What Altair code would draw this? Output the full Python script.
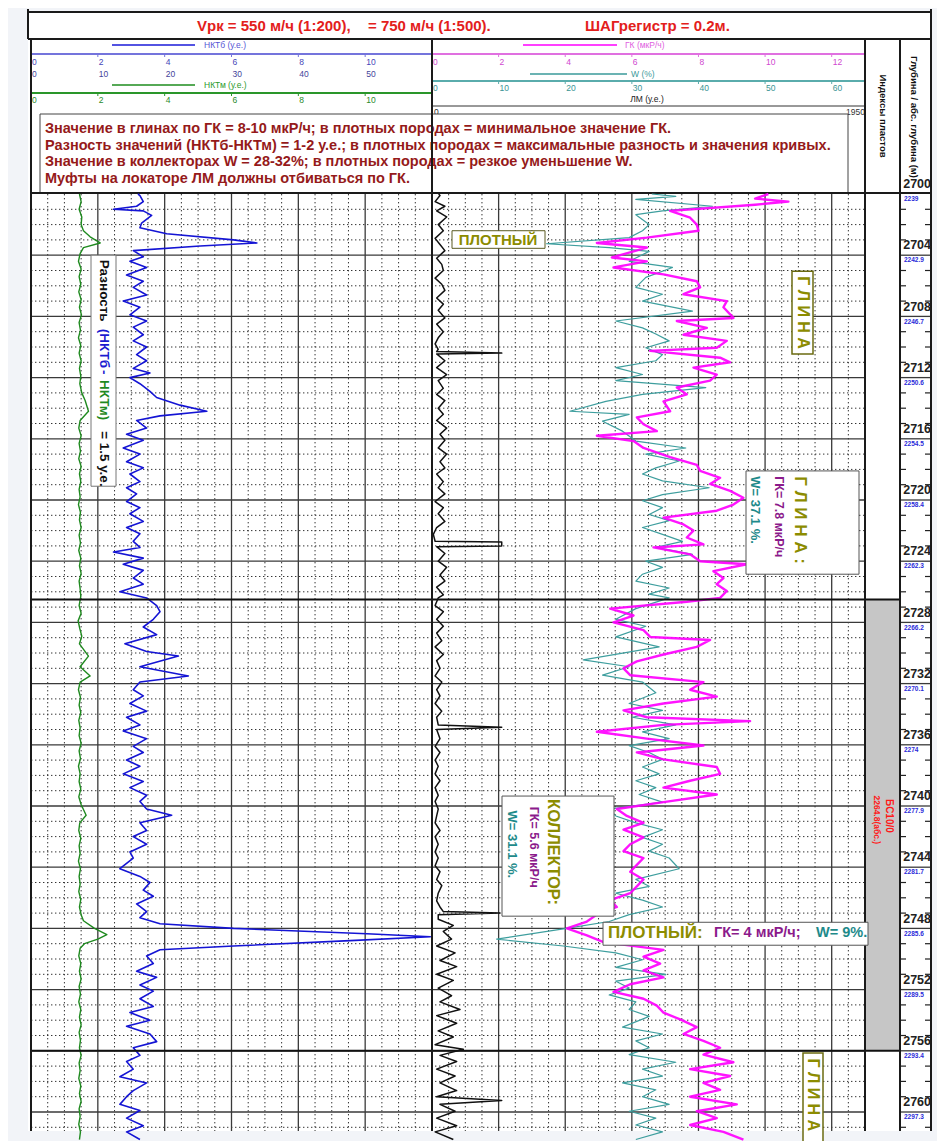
import altair as alt
import pandas as pd

# ------------------------------------------------------------------ data (depth m, value)
NKTB = [(2700.0,3.2),(2700.1,3.26),(2700.5,3.36),(2700.8,3.16),(2701.0,2.47),(2701.1,3.36),(2701.4,3.61),
        (2701.9,3.31),(2702.2,3.26),(2702.6,4.06),(2703.0,6.06),(2703.2,6.76),(2703.4,5.06),(2703.7,3.06),
        (2704.1,3.36),(2704.4,2.96),(2704.8,3.46),(2705.3,2.86),(2705.7,3.36),(2706.1,3.06),(2706.6,3.46),
        (2707.0,2.76),(2707.4,3.26),(2707.9,2.96),(2708.3,3.46),(2708.7,3.06),(2709.2,3.36),(2709.6,3.06),
        (2710.0,3.46),(2710.5,3.16),(2710.9,3.46),(2711.4,3.06),(2711.7,3.56),(2712.0,2.96),(2712.4,3.26),
        (2712.9,3.56),(2713.3,3.76),(2713.8,4.46),(2714.2,5.26),(2714.5,3.86),(2714.8,3.16),(2715.3,3.46),
        (2715.7,2.86),(2716.1,3.36),(2716.6,2.76),(2717.0,3.26),(2717.5,2.86),(2717.9,3.36),(2718.3,2.96),
        (2718.8,3.26),(2719.2,2.86),(2719.6,3.16),(2720.1,2.86),(2720.5,3.26),(2720.9,2.96),(2721.4,3.36),
        (2721.8,2.86),(2722.2,3.26),(2722.7,3.06),(2723.1,3.26),(2723.4,2.47),(2723.8,3.36),(2724.2,2.76),
        (2724.6,3.36),(2725.1,3.06),(2725.5,3.36),(2726.0,2.66),(2726.4,3.46),(2726.9,3.76),(2727.3,3.86),
        (2727.8,3.66),(2728.3,3.36),(2728.8,3.76),(2729.4,2.81),(2729.9,3.46),(2730.2,4.41),(2730.9,3.26),
        (2731.5,4.71),(2731.9,3.26),(2732.4,3.06),(2732.8,3.36),(2733.3,2.96),(2733.8,3.46),(2734.2,2.86),
        (2734.7,3.26),(2735.1,2.76),(2735.6,3.46),(2736.1,3.06),(2736.5,3.36),(2737.0,2.86),(2737.4,3.26),
        (2737.9,2.76),(2738.4,3.36),(2738.8,2.96),(2739.3,3.46),(2739.7,3.26),(2740.2,3.46),(2740.6,4.21),
        (2741.1,3.26),(2741.6,3.46),(2742.0,3.06),(2742.5,3.46),(2743.0,2.96),(2743.4,3.06),(2744.1,2.66),
        (2744.6,3.26),(2745.0,3.56),(2745.5,3.36),(2745.9,3.66),(2746.4,3.16),(2746.9,3.46),(2747.3,3.26),
        (2747.7,3.86),(2748.0,6.06),(2748.35,10.05),(2748.55,11.95),(2748.8,9.55),(2749.15,6.06),(2749.4,3.86),
        (2749.8,3.46),(2750.3,3.66),(2750.8,3.16),(2751.2,3.76),(2751.7,3.26),(2752.1,3.66),(2752.6,3.26),
        (2753.1,3.66),(2753.5,2.96),(2754.0,3.56),(2754.4,2.86),(2754.9,3.56),(2755.4,3.76),(2755.8,3.06),
        (2756.3,3.26),(2756.7,2.86),(2757.2,3.06),(2757.7,2.66),(2758.1,3.46),(2758.6,3.06),(2759.0,2.86),
        (2759.5,2.66),(2759.9,3.26),(2760.4,2.86),(2760.9,3.36),(2761.3,2.86),(2761.8,3.26)]

NKTM = [(2700.0,1.45),(2700.5,1.5),(2701.0,1.44),(2701.5,1.52),(2702.0,1.5),(2702.4,1.57),(2702.8,1.77),
        (2703.2,2.07),(2703.5,1.57),(2703.9,1.47),(2704.4,1.42),(2704.9,1.5),(2705.4,1.44),(2705.9,1.49),
        (2706.4,1.43),(2706.9,1.5),(2707.4,1.45),(2707.9,1.51),(2708.4,1.44),(2708.9,1.48),(2709.4,1.42),
        (2709.9,1.49),(2710.4,1.44),(2710.9,1.5),(2711.4,1.45),(2711.9,1.49),(2712.4,1.46),(2713.0,1.52),
        (2713.5,1.62),(2714.2,1.72),(2714.8,1.47),(2715.3,1.43),(2715.8,1.5),(2716.3,1.44),(2716.8,1.48),
        (2717.3,1.43),(2717.8,1.5),(2718.3,1.45),(2718.8,1.49),(2719.3,1.44),(2719.8,1.47),(2720.3,1.42),
        (2720.8,1.48),(2721.3,1.45),(2721.8,1.5),(2722.3,1.44),(2722.8,1.48),(2723.3,1.43),(2723.8,1.49),
        (2724.3,1.45),(2724.8,1.5),(2725.3,1.44),(2725.8,1.47),(2726.3,1.49),(2726.9,1.44),(2727.4,1.5),
        (2727.9,1.41),(2728.4,1.46),(2728.9,1.52),(2729.4,1.45),(2730.2,1.72),(2730.9,1.47),(2731.5,1.77),
        (2731.9,1.47),(2732.4,1.42),(2732.9,1.48),(2733.4,1.44),(2733.9,1.49),(2734.4,1.43),(2734.9,1.47),
        (2735.4,1.44),(2735.9,1.5),(2736.4,1.44),(2736.9,1.48),(2737.4,1.42),(2737.9,1.47),(2738.4,1.44),
        (2738.9,1.49),(2739.4,1.43),(2739.9,1.5),(2740.6,1.65),(2741.1,1.46),(2741.6,1.43),(2742.1,1.49),
        (2742.6,1.44),(2743.1,1.47),(2743.6,1.42),(2744.1,1.48),(2744.6,1.44),(2745.1,1.47),(2745.6,1.43),
        (2746.1,1.49),(2746.6,1.45),(2747.1,1.5),(2747.5,1.57),(2748.0,1.9),(2748.4,2.27),(2748.7,2.0),
        (2749.0,1.6),(2749.3,1.47),(2749.8,1.43),(2750.3,1.49),(2750.8,1.45),(2751.3,1.5),(2751.8,1.44),
        (2752.3,1.48),(2752.8,1.43),(2753.3,1.49),(2753.8,1.45),(2754.3,1.5),(2754.8,1.44),(2755.3,1.48),
        (2755.8,1.45),(2756.3,1.5),(2756.8,1.44),(2757.3,1.47),(2757.8,1.43),(2758.3,1.49),(2758.8,1.45),
        (2759.3,1.5),(2759.8,1.44),(2760.3,1.47),(2760.8,1.43),(2761.3,1.48),(2761.8,1.45)]

LM = [(2700.0,30),(2700.1,36),(2700.5,14),(2700.8,58),(2701.1,21),(2701.5,66),(2702.0,28),(2702.4,51),
      (2702.9,14),(2703.3,36),(2703.7,58),(2704.2,21),(2704.6,44),(2705.0,51),(2705.5,14),(2705.9,44),
      (2706.3,58),(2706.8,21),(2707.2,51),(2707.6,28),(2708.1,58),(2708.5,21),(2709.0,51),(2709.4,28),
      (2709.8,14),(2710.15,28),(2710.3,21),(2710.4,314),(2710.45,21),(2710.9,58),(2711.35,21),(2711.8,66),
      (2712.2,28),(2712.7,51),(2713.1,21),(2713.5,58),(2714.0,28),(2714.4,51),(2714.8,21),(2715.3,66),
      (2715.7,36),(2716.1,58),(2716.6,28),(2717.0,66),(2717.5,36),(2717.9,58),(2718.3,21),(2718.8,51),
      (2719.2,28),(2719.6,58),(2720.1,14),(2720.5,51),(2720.9,28),(2721.4,58),(2721.8,21),(2722.25,6),
      (2722.7,14),(2722.75,314),(2723.0,314),(2723.05,21),(2723.5,58),(2724.0,28),(2724.4,66),(2724.9,36),
      (2725.3,58),(2725.7,21),(2726.2,51),(2726.4,28),(2726.9,14),(2727.3,51),(2727.8,21),(2728.25,51),
      (2728.7,21),(2729.2,44),(2729.6,14),(2730.1,51),(2730.5,21),(2731.0,36),(2731.5,14),(2731.9,44),
      (2732.4,21),(2732.8,36),(2733.3,14),(2733.8,44),(2734.2,21),(2734.7,28),(2734.85,314),(2735.0,21),
      (2735.6,36),(2736.1,14),(2736.5,36),(2737.0,14),(2737.4,28),(2737.9,14),(2738.35,36),(2738.8,14),
      (2739.3,28),(2739.7,14),(2740.2,28),(2740.65,21),(2741.1,14),(2741.6,36),(2742.0,14),(2742.5,28),
      (2743.0,14),(2743.4,28),(2743.9,14),(2744.3,36),(2744.8,21),(2745.2,44),(2745.7,28),(2746.2,21),
      (2746.6,36),(2746.9,51),(2747.0,306),(2747.1,28),(2747.4,28),(2747.8,96),(2748.2,51),(2748.7,88),
      (2749.15,21),(2749.6,104),(2750.1,36),(2750.5,111),(2751.0,21),(2751.4,96),(2751.9,28),(2752.4,88),
      (2752.8,36),(2753.3,126),(2753.7,21),(2754.2,111),(2754.7,28),(2755.1,96),(2755.6,14),(2755.9,141),
      (2756.3,36),(2756.7,111),(2757.2,21),(2757.65,104),(2758.1,36),(2758.6,111),(2759.0,21),(2759.25,314),
      (2759.5,36),(2759.95,104),(2760.4,21),(2760.9,111),(2761.3,14),(2761.8,96)]

GK = [(2700.0,10.1),(2700.3,9.7),(2700.5,10.7),(2700.7,9.7),(2701.1,7.15),(2701.55,7.75),(2702.0,7.95),
      (2702.4,8.0),(2702.85,6.45),(2703.2,4.95),(2703.5,6.45),(2704.15,5.4),(2704.4,6.45),(2704.8,5.45),
      (2705.25,6.95),(2705.7,7.95),(2706.1,8.05),(2706.55,7.55),(2707.0,8.85),(2707.4,8.75),(2708.1,9.05),
      (2708.3,7.35),(2708.75,8.25),(2709.2,7.55),(2709.6,8.85),(2710.05,8.55),(2710.25,6.55),(2710.7,8.65),
      (2711.0,8.95),(2711.35,7.85),(2711.8,8.55),(2712.2,8.35),(2712.65,7.35),(2713.1,7.65),(2713.55,6.95),
      (2714.2,7.15),(2714.6,6.15),(2715.05,6.35),(2715.5,6.75),(2715.8,4.95),(2716.15,6.05),(2716.6,6.35),
      (2717.2,7.15),(2717.7,7.95),(2718.1,8.05),(2718.55,8.65),(2718.95,8.35),(2719.4,8.95),(2719.85,9.35),
      (2720.3,9.05),(2720.7,8.55),(2721.15,6.95),(2721.6,7.55),(2722.0,7.85),(2722.45,7.65),(2722.9,8.15),
      (2723.1,6.65),(2723.55,7.75),(2724.0,8.05),(2724.2,9.45),(2724.65,8.45),(2725.1,8.75),(2725.5,8.55),
      (2725.95,8.85),(2726.4,8.65),(2726.65,7.65),(2727.1,5.35),(2727.55,6.05),(2728.0,5.45),(2728.5,6.35),
      (2728.95,6.55),(2729.15,8.35),(2729.6,7.95),(2730.1,6.95),(2730.55,6.15),(2731.0,5.75),(2731.45,5.95),
      (2731.9,8.15),(2732.4,7.75),(2732.85,8.55),(2733.3,6.95),(2733.75,5.75),(2734.2,6.45),(2734.45,9.55),
      (2734.7,6.95),(2735.15,4.95),(2735.6,6.45),(2736.05,8.15),(2736.5,6.15),(2736.95,6.95),(2737.45,8.55),
      (2737.9,8.65),(2738.35,7.75),(2738.8,6.95),(2739.25,8.55),(2739.75,6.95),(2740.2,5.55),(2740.65,5.85),
      (2741.1,6.35),(2741.55,5.75),(2742.05,6.35),(2742.5,5.95),(2742.95,5.75),(2743.4,6.35),(2743.85,6.15),
      (2744.3,5.95),(2744.8,6.35),(2745.25,6.15),(2745.7,5.95),(2746.15,5.35),(2746.6,5.55),(2747.1,4.95),
      (2747.55,4.65),(2748.0,4.05),(2748.45,4.65),(2748.9,5.15),(2749.4,6.95),(2749.85,6.35),(2750.3,6.85),
      (2750.75,6.35),(2751.2,6.95),(2751.65,5.95),(2752.15,5.45),(2752.6,6.35),(2753.05,6.75),(2753.5,6.95),
      (2753.95,7.45),(2754.45,7.95),(2754.9,7.55),(2755.35,8.15),(2755.8,8.65),(2756.25,8.15),(2756.75,9.05),
      (2757.2,7.75),(2757.65,8.95),(2758.1,8.15),(2758.55,8.65),(2759.0,7.75),(2759.5,9.15),(2759.95,7.95),
      (2760.4,8.55),(2760.85,7.75),(2761.3,8.75),(2761.8,9.35)]

W = [(2700.0,33.0),(2700.15,36.6),(2700.35,30.6),(2700.8,42.1),(2701.1,34.6),(2701.35,30.6),(2702.0,32.6),
     (2702.4,31.6),(2702.85,29.6),(2703.25,17.2),(2703.5,26.6),(2703.75,32.6),(2704.4,29.6),(2704.8,36.1),
     (2705.45,32.1),(2706.1,30.6),(2706.55,34.6),(2707.0,31.6),(2707.65,39.1),(2708.3,27.6),(2708.75,31.6),
     (2709.15,33.6),(2709.6,35.6),(2710.05,32.1),(2710.5,34.6),(2710.9,33.6),(2711.35,27.6),(2711.8,31.6),
     (2712.2,27.6),(2712.65,41.1),(2713.1,31.6),(2713.55,26.1),(2714.2,20.7),(2714.4,29.6),(2714.85,25.6),
     (2715.5,28.6),(2716.15,30.6),(2716.6,38.1),(2717.0,32.1),(2717.45,37.1),(2717.9,33.6),(2718.3,31.6),
     (2718.75,34.6),(2719.2,41.6),(2719.65,34.6),(2720.05,31.6),(2720.5,34.6),(2720.95,32.6),(2721.35,35.6),
     (2721.8,31.6),(2722.25,34.6),(2722.7,37.6),(2723.1,33.6),(2723.55,39.1),(2724.0,32.1),(2724.4,34.6),
     (2724.85,31.6),(2725.3,30.6),(2725.75,35.6),(2726.15,32.6),(2726.4,35.6),(2727.1,30.6),(2727.8,27.6),
     (2728.25,32.1),(2728.95,27.6),(2729.6,34.1),(2730.45,22.7),(2730.9,29.6),(2731.45,25.6),(2731.9,31.6),
     (2732.6,33.6),(2733.3,29.6),(2733.75,34.6),(2734.2,30.1),(2734.7,36.6),(2735.15,31.6),(2735.6,35.6),
     (2736.05,29.6),(2736.5,32.6),(2736.95,34.6),(2737.45,31.6),(2737.9,34.1),(2738.35,30.6),(2738.8,33.6),
     (2739.25,31.1),(2739.75,34.6),(2740.2,26.6),(2740.65,27.6),(2741.1,30.6),(2741.55,34.6),(2742.05,31.6),
     (2742.5,34.6),(2742.95,32.6),(2743.4,35.6),(2744.1,37.1),(2744.8,30.6),(2745.25,32.6),(2745.7,27.6),
     (2746.15,31.6),(2746.6,34.6),(2747.1,29.6),(2747.55,26.6),(2748.0,20.2),(2748.7,9.7),(2749.15,19.7),
     (2749.6,27.6),(2750.05,31.6),(2750.55,27.6),(2751.0,35.1),(2751.45,27.6),(2751.9,29.6),(2752.35,26.6),
     (2752.8,30.6),(2753.3,29.6),(2753.75,32.6),(2754.45,28.6),(2754.9,34.6),(2755.35,30.6),(2755.8,32.6),
     (2756.25,29.6),(2756.75,36.6),(2757.2,31.6),(2757.65,34.6),(2758.1,28.6),(2758.55,33.6),(2759.0,31.6),
     (2759.5,35.6),(2759.95,29.6),(2760.4,33.6),(2760.85,30.6),(2761.3,34.6),(2761.8,30.6)]

NKT_TICKS = [0, 2, 4, 6, 8, 10]
NKT_TICKS2 = [0, 10, 20, 30, 40, 50]
GK_TICKS = [0, 2, 4, 6, 8, 10, 12]
W_TICKS = [0, 10, 20, 30, 40, 50, 60]
LM_RANGE = ["0", "1950"]
DEPTH_MARKS = list(range(2700, 2761, 4))
ABS_DEPTHS = ["2239", "2242.9", "2246.7", "2250.6", "2254.5", "2258.4", "2262.3", "2266.2",
              "2270.1", "2274", "2277.9", "2281.7", "2285.6", "2289.5", "2293.4", "2297.3"]
FORMATION = ["БС10/0", "2264.8(абс.)"]
FORMATION_DEPTHS = [2726.5, 2756.0]

TITLE_PARTS = ["Vрк = 550 м/ч (1:200),", "= 750 м/ч (1:500).", "ШАГрегистр = 0.2м."]
NOTE_LINES = [
    "Значение в глинах по ГК = 8-10 мкР/ч;  в плотных породах = минимальное значение ГК.",
    "Разность значений (НКТб-НКТм) = 1-2 у.е.;  в плотных породах = максимальные разность и значения кривых.",
    "Значение в коллекторах W = 28-32%;  в плотных породах = резкое уменьшение W.",
    "Муфты на локаторе ЛМ должны отбиваться по ГК.",
]

# ------------------------------------------------------------------ layout
PX0, PX1 = 8, 937            # page-x domain
HY0, HY1 = 8, 193            # header, page-y
PX_PER_M = 15.3
LOG_H = 937
D_TOP = 2700.0
D_BOT = D_TOP + LOG_H / PX_PER_M
L0, L1 = 31, 432             # left track
R0, R1 = 432, 865            # right track
I0, I1 = 865, 900            # index column
C0, C1 = 900, 931            # depth column
NKT_MAX, GK_MAX, W_MAX, LM_MAX = 12, 13, 65, 1950

OLIVE = "#8c8c00"
PURPLE = "#8b1a8b"
TEAL_T = "#1e8a8a"
FONT = "Liberation Sans"

XS = alt.Scale(domain=[PX0, PX1], nice=False, zero=False)
YS_H = alt.Scale(domain=[HY0, HY1], reverse=True, nice=False, zero=False)
YS_L = alt.Scale(domain=[D_TOP, D_BOT], reverse=True, nice=False, zero=False)


def lx(v, vmax):
    return L0 + v / vmax * (L1 - L0)


def rx(v, vmax):
    return R0 + v / vmax * (R1 - R0)


def enc_xy(ys, xf="x", yf="y"):
    return dict(x=alt.X(xf, type="quantitative", scale=XS, axis=None),
                y=alt.Y(yf, type="quantitative", scale=ys, axis=None))


def rules(rows, ys, **kw):
    df = pd.DataFrame(rows, columns=["x", "x2", "y", "y2"])
    return alt.Chart(df).mark_rule(**kw).encode(**enc_xy(ys), x2=alt.X2("x2"), y2=alt.Y2("y2"))


def rects(rows, ys, **kw):
    df = pd.DataFrame(rows, columns=["x", "x2", "y", "y2"])
    return alt.Chart(df).mark_rect(**kw).encode(**enc_xy(ys), x2=alt.X2("x2"), y2=alt.Y2("y2"))


def texts(rows, ys, **kw):
    df = pd.DataFrame(rows, columns=["x", "y", "t"])
    kw.setdefault("font", FONT)
    return alt.Chart(df).mark_text(**kw).encode(**enc_xy(ys), text="t:N")


def curve(pairs, x0, x1, vmax, color, width, opacity=1.0):
    df = pd.DataFrame(pairs, columns=["depth", "value"])
    return alt.Chart(df).transform_calculate(
        px=f"{x0} + datum.value / {vmax} * {x1 - x0}"
    ).mark_line(color=color, strokeWidth=width, strokeJoin="round", opacity=opacity).encode(
        x=alt.X("px:Q", scale=XS, axis=None),
        y=alt.Y("depth:Q", scale=YS_L, axis=None),
        order="depth:Q")


# ------------------------------------------------------------------ header
H = []
H.append(rects([(28, 931, 11, HY1)], YS_H, fill="white"))
# title
H.append(texts([(197, 25, TITLE_PARTS[0]), (368, 25, TITLE_PARTS[1]), (585, 25, TITLE_PARTS[2])], YS_H,
               align="left", baseline="middle", fontSize=15, fontWeight="bold", color="#e3201b"))
# legend lines
H.append(rules([(112, 195, 44, 44)], YS_H, color="#1a1ad8", strokeWidth=1.5))
H.append(rules([(112, 195, 84, 84)], YS_H, color="#1e8c1e", strokeWidth=1.5))
H.append(rules([(523, 617, 44, 44)], YS_H, color="#ff00ff", strokeWidth=1.5))
H.append(rules([(530, 627, 73, 73)], YS_H, color="#3a9a9a", strokeWidth=1.5))
H.append(texts([(204, 44, "НКТб (у.е.)")], YS_H, align="left", baseline="middle", fontSize=8.5, color="#5555d5"))
H.append(texts([(204, 84, "НКТм (у.е.)")], YS_H, align="left", baseline="middle", fontSize=8.5, color="#2a9a2a"))
H.append(texts([(625, 44, "ГК (мкР/ч)")], YS_H, align="left", baseline="middle", fontSize=8.5, color="#e060e0"))
H.append(texts([(631, 73, "W (%)")], YS_H, align="left", baseline="middle", fontSize=8.5, color="#3a9a9a"))
H.append(texts([(647, 98, "ЛМ (у.е.)")], YS_H, align="center", baseline="middle", fontSize=8.5, color="#222"))
# scale lines + ticks + labels
scales = [
    (L0, L1, 53, "#7474dc", NKT_TICKS, NKT_MAX, lx, "#4646b8", 61),
    (L0, L1, 92, "#2a962a", NKT_TICKS, NKT_MAX, lx, "#2a8a2a", 99),
    (R0, R1, 53, "#e070e0", GK_TICKS, GK_MAX, rx, "#d048d0", 61),
    (R0, R1, 80, "#5aacac", W_TICKS, W_MAX, rx, "#3a9494", 87),
]
for a, b, yl, col, ticks, vmax, fx, tcol, ylab in scales:
    H.append(rules([(a, b, yl, yl)], YS_H, color=col, strokeWidth=2))
    H.append(rules([(fx(t, vmax), fx(t, vmax), yl, yl + 3) for t in ticks], YS_H, color=col, strokeWidth=1))
    H.append(texts([(fx(t, vmax) + 1, ylab, str(t)) for t in ticks], YS_H,
                   align="left", baseline="middle", fontSize=8.5, color=tcol))
H.append(texts([(lx(t, 60) + 1, 73, str(t)) for t in NKT_TICKS2], YS_H,
               align="left", baseline="middle", fontSize=8.5, color="#44449a"))
H.append(rules([(R0, R1, 105, 105)], YS_H, color="#333", strokeWidth=1))
H.append(texts([(R0 + 2, 111, LM_RANGE[0])], YS_H, align="left", baseline="middle", fontSize=8.5, color="#333"))
H.append(texts([(R1, 111, LM_RANGE[1])], YS_H, align="right", baseline="middle", fontSize=8.5, color="#333"))
# note box
H.append(rects([(40, 848, 113, 192)], YS_H, fill="white", stroke="#444", strokeWidth=1))
H.append(texts([(45, 128 + 16.5 * i, s) for i, s in enumerate(NOTE_LINES)], YS_H,
               align="left", baseline="middle", fontSize=14.5, fontWeight="bold", color="#951a1a"))
# column titles
H.append(texts([(882.5, 115, "Индексы пластов")], YS_H, align="center", baseline="middle", angle=90,
               fontSize=9.5, fontWeight="bold", color="#111"))
H.append(texts([(914, 116, "Глубина / абс. глубина (м)")], YS_H, align="center", baseline="middle", angle=90,
               fontSize=9.5, fontWeight="bold", color="#111"))
H.append(texts([(C1, 190, str(DEPTH_MARKS[0]))], YS_H, align="right", baseline="bottom",
               fontSize=12.5, fontWeight="bold", color="#222"))
# frame
H.append(rules([(28, 28, HY0, 38), (931, 931, HY0, 38), (28, 931, 11, 11), (28, 931, 38, 38),
                (L0, L0, 38, HY1), (R0, R0, 38, HY1), (R1, R1, 38, HY1), (C0, C0, 38, HY1),
                (C1, C1, 38, HY1), (L0, C1, HY1 - 1, HY1 - 1)], YS_H, color="#1a1a1a", strokeWidth=2))

header = alt.layer(*H).properties(width=PX1 - PX0, height=HY1 - HY0)

# ------------------------------------------------------------------ log
G = []
G.append(rects([(28, 931, D_TOP, D_BOT)], YS_L, fill="white"))
G.append(rects([(I0, I1, FORMATION_DEPTHS[0], FORMATION_DEPTHS[1])], YS_L, fill="#c6c6c6"))

# grid
meters = list(range(2701, int(D_BOT) + 1))
minor_m = [m for m in meters if m % 4 != 0]
major_m = [m for m in meters if m % 4 == 0]
minor_v_left = [k / 2 for k in range(1, 24) if k % 4 != 0]
minor_v_right = [k / 2 for k in range(1, 26) if k % 4 != 0]
G.append(rules([(L0, R1, m, m) for m in minor_m], YS_L, color="#333", strokeWidth=1, strokeDash=[1.4, 2.6]))
G.append(rules([(lx(v, NKT_MAX), lx(v, NKT_MAX), D_TOP, D_BOT) for v in minor_v_left] +
               [(rx(v, GK_MAX), rx(v, GK_MAX), D_TOP, D_BOT) for v in minor_v_right],
               YS_L, color="#333", strokeWidth=1, strokeDash=[1.4, 2.6]))
G.append(rules([(L0, R1, m, m) for m in major_m] + [(C0, C1, m, m) for m in major_m], YS_L,
               color="#3a3a3a", strokeWidth=1.3))
G.append(rules([(lx(v, NKT_MAX), lx(v, NKT_MAX), D_TOP, D_BOT) for v in NKT_TICKS[1:]] +
               [(rx(v, GK_MAX), rx(v, GK_MAX), D_TOP, D_BOT) for v in GK_TICKS[1:]],
               YS_L, color="#3a3a3a", strokeWidth=1.3))
G.append(rules([(C0, C0 + 6, m, m) for m in minor_m] + [(C1 - 6, C1, m, m) for m in minor_m], YS_L,
               color="#222", strokeWidth=1.2))

# curves
G.append(curve(NKTM, L0, L1, NKT_MAX, "#1f8a1f", 1.4))
G.append(curve(NKTB, L0, L1, NKT_MAX, "#1414d4", 1.6))
G.append(curve(LM, R0, R1, LM_MAX, "#111111", 1.5))
G.append(curve(W, R0, R1, W_MAX, "#3e9e9e", 1.2))
G.append(curve(GK, R0, R1, GK_MAX, "#ff00ff", 2.4, opacity=0.92))

# formation boundaries + column borders
G.append(rules([(L0, I1, d, d) for d in FORMATION_DEPTHS], YS_L, color="#111", strokeWidth=2))
G.append(rules([(x, x, D_TOP, D_BOT) for x in (L0, R0, R1, C0, C1)], YS_L, color="#1a1a1a", strokeWidth=2))

# depth labels
G.append(texts([(C1, m - 0.18, str(m)) for m in DEPTH_MARKS[1:]], YS_L, align="right", baseline="bottom",
               fontSize=12.5, fontWeight="bold", color="#222"))
G.append(texts([(C0 + 4, m + 0.15, a) for m, a in zip(DEPTH_MARKS, ABS_DEPTHS)], YS_L, align="left",
               baseline="top", fontSize=6.5, fontWeight="bold", color="#2b2bd9"))
# formation index
G.append(texts([(889, 2740.65, FORMATION[0])], YS_L, align="center", baseline="middle", angle=90,
               fontSize=10, fontWeight="bold", color="#ff1a1a"))
G.append(texts([(877, 2740.9, FORMATION[1])], YS_L, align="center", baseline="middle", angle=90,
               fontSize=8.5, fontWeight="bold", color="#ff1a1a"))

# annotation boxes
G.append(rects([(91, 116, 2704.0, 2719.1)], YS_L, fill="white", stroke="#777", strokeWidth=1))
G.append(rects([(452, 545, 2702.4, 2703.55)], YS_L, fill="white", stroke="#5a5a20", strokeWidth=1))
G.append(rects([(792, 813, 2705.05, 2710.45), (803, 823, 2756.15, D_BOT + 1)], YS_L,
               fill="white", stroke="#6b6b10", strokeWidth=1.5))
G.append(rects([(746, 859, 2718.1, 2724.85), (502, 614, 2739.35, 2747.2), (603, 868, 2747.6, 2749.1)],
               YS_L, fill="white", stroke="#555", strokeWidth=1))

# annotation texts
rot = dict(angle=90, align="left", baseline="middle", fontWeight="bold")
G.append(texts([(103.5, 2704.3, "Разность"), (103.5, 2715.5, "= 1.5 у.е.")], YS_L, fontSize=13.5,
               color="#111", **rot))
G.append(texts([(103.5, 2708.8, "(НКТб"), (103.5, 2711.5, "-")], YS_L, fontSize=13.5, color="#1a1ad0", **rot))
G.append(texts([(103.5, 2712.15, "НКТм)")], YS_L, fontSize=13.5, color="#1f8a1f", **rot))
G.append(texts([(498, 2703.0, "ПЛОТНЫЙ")], YS_L, align="center", baseline="middle", fontSize=15,
               fontWeight="bold", color=OLIVE))
G.append(texts([(802.5, 2707.75, "Г Л И Н А")], YS_L, angle=90, align="center", baseline="middle",
               fontSize=16, fontWeight="bold", color=OLIVE))
G.append(texts([(813, 2756.5, "Г Л И Н А")], YS_L, fontSize=16, color=OLIVE, **rot))
G.append(texts([(800, 2718.45, "Г Л И Н А :")], YS_L, fontSize=17, color=OLIVE, **rot))
G.append(texts([(779, 2718.45, "ГК= 7.8  мкР/ч")], YS_L, fontSize=12.5, color=PURPLE, **rot))
G.append(texts([(755, 2718.45, "W= 37.1 %.")], YS_L, fontSize=13, color=TEAL_T, **rot))
G.append(texts([(553, 2739.55, "КОЛЛЕКТОР:")], YS_L, fontSize=16.5, color=OLIVE, **rot))
G.append(texts([(534, 2740.05, "ГК= 5.6  мкР/ч")], YS_L, fontSize=12.5, color=PURPLE, **rot))
G.append(texts([(512, 2740.3, "W= 31.1 %.")], YS_L, fontSize=13, color=TEAL_T, **rot))
flat = dict(align="left", baseline="middle", fontWeight="bold")
G.append(texts([(608, 2748.3, "ПЛОТНЫЙ:")], YS_L, fontSize=17, color=OLIVE, **flat))
G.append(texts([(714, 2748.3, "ГК= 4 мкР/ч;")], YS_L, fontSize=14.5, color=PURPLE, **flat))
G.append(texts([(816, 2748.3, "W= 9%.")], YS_L, fontSize=14.5, color=TEAL_T, **flat))

log = alt.layer(*G).properties(width=PX1 - PX0, height=LOG_H)

chart = alt.vconcat(header, log, spacing=0, bounds="flush").properties(padding=0).configure(
    background="#f2f4f8", font=FONT
).configure_view(stroke=None)

chart.save("out.html", embed_options={"renderer": "svg", "actions": False})
